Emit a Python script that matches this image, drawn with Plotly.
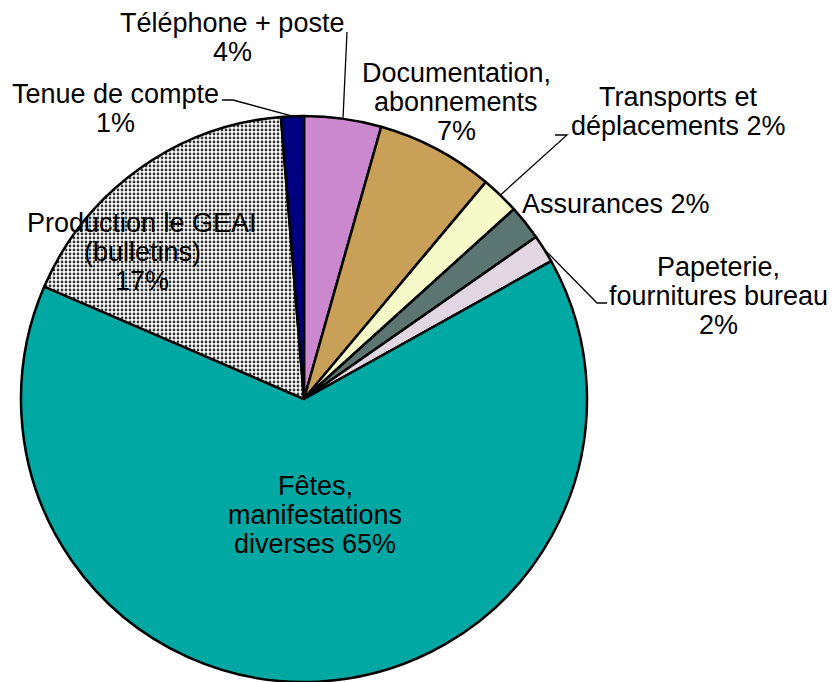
import math
import plotly.graph_objects as go

# ---- data ----
categories = ["Téléphone + poste", "Documentation, abonnements", "Transports et déplacements",
              "Assurances", "Papeterie, fournitures bureau", "Fêtes, manifestations diverses",
              "Production le GEAI (bulletins)", "Tenue de compte"]
values = [4.4, 6.7, 2.2, 2.0, 1.6, 64.6, 17.2, 1.3]
label_lines = [
    ["Téléphone + poste", "4%"],
    ["Documentation,", "abonnements", "7%"],
    ["Transports et", "déplacements 2%"],
    ["Assurances 2%"],
    ["Papeterie,", "fournitures bureau", "2%"],
    ["Fêtes,", "manifestations", "diverses 65%"],
    ["Production le GEAI", "(bulletins)", "17%"],
    ["Tenue de compte", "1%"],
]
colors = ["#CC88CE", "#C9A058", "#F6F9C8", "#5B7572", "#E2D6E2", "#00A8A4", "#E2E2E2", "#000080"]
patterns = ["", "", "", "", "", "", ".", ""]

# ---- layout constants (pixels) ----
W, H = 833, 682
CX, CY, R = 304, 399, 283
FONT = "Liberation Sans, Arial, sans-serif"
FS = 27
LINE_H = 29
# first-line centre of each label
label_pos = [(232, 23), (456, 73), (678, 97), (616, 204), (718, 267), (315, 486), (142, 223), (115, 94)]
# leader lines: index -> fixed points after the slice-edge point (computed from data)
leaders = {
    7: [(233, 100), (222, 100)],
    0: [(347, 32)],
    2: [(567, 135), (555, 135)],
    4: [(597, 303), (607, 303)],
}


def px(x):
    return x / W


def py(y):
    return 1 - y / H


fig = go.Figure(go.Pie(
    labels=categories,
    values=values,
    sort=False,
    direction="clockwise",
    rotation=0,
    textinfo="none",
    hoverinfo="label+percent",
    marker=dict(colors=colors, line=dict(color="black", width=2.5),
                pattern=dict(shape=patterns, fgcolor="#333333", size=4, solidity=0.38)),
    domain=dict(x=[px(CX - R), px(CX + R)], y=[max(0, py(CY + R)), py(CY - R)]),
    showlegend=False,
))

annotations = []
for lines, (lx, ly) in zip(label_lines, label_pos):
    for i, t in enumerate(lines):
        annotations.append(dict(
            x=px(lx), y=py(ly + i * LINE_H), xref="paper", yref="paper",
            text=t, showarrow=False, xanchor="center", yanchor="middle",
            font=dict(family=FONT, size=FS, color="black"),
        ))

total = sum(values)
cum = 0.0
mids = []
for v in values:
    mids.append((cum + v / 2) / total * 360)
    cum += v

shapes = []
for idx, pts in leaders.items():
    a = math.radians(mids[idx])
    ex, ey = CX + R * math.sin(a), CY - R * math.cos(a)
    path_pts = [(ex, ey)] + pts
    d = "M " + " L ".join(f"{px(x):.5f},{py(y):.5f}" for x, y in path_pts)
    shapes.append(dict(type="path", path=d, xref="paper", yref="paper",
                       line=dict(color="black", width=1.3)))

fig.update_layout(
    width=W, height=H,
    margin=dict(l=0, r=0, t=0, b=0),
    paper_bgcolor="white", plot_bgcolor="white",
    annotations=annotations, shapes=shapes,
)
fig.write_html("out.html",
               config={"displayModeBar": False},
               post_script="document.body.style.margin='0';document.body.style.overflow='hidden';")
